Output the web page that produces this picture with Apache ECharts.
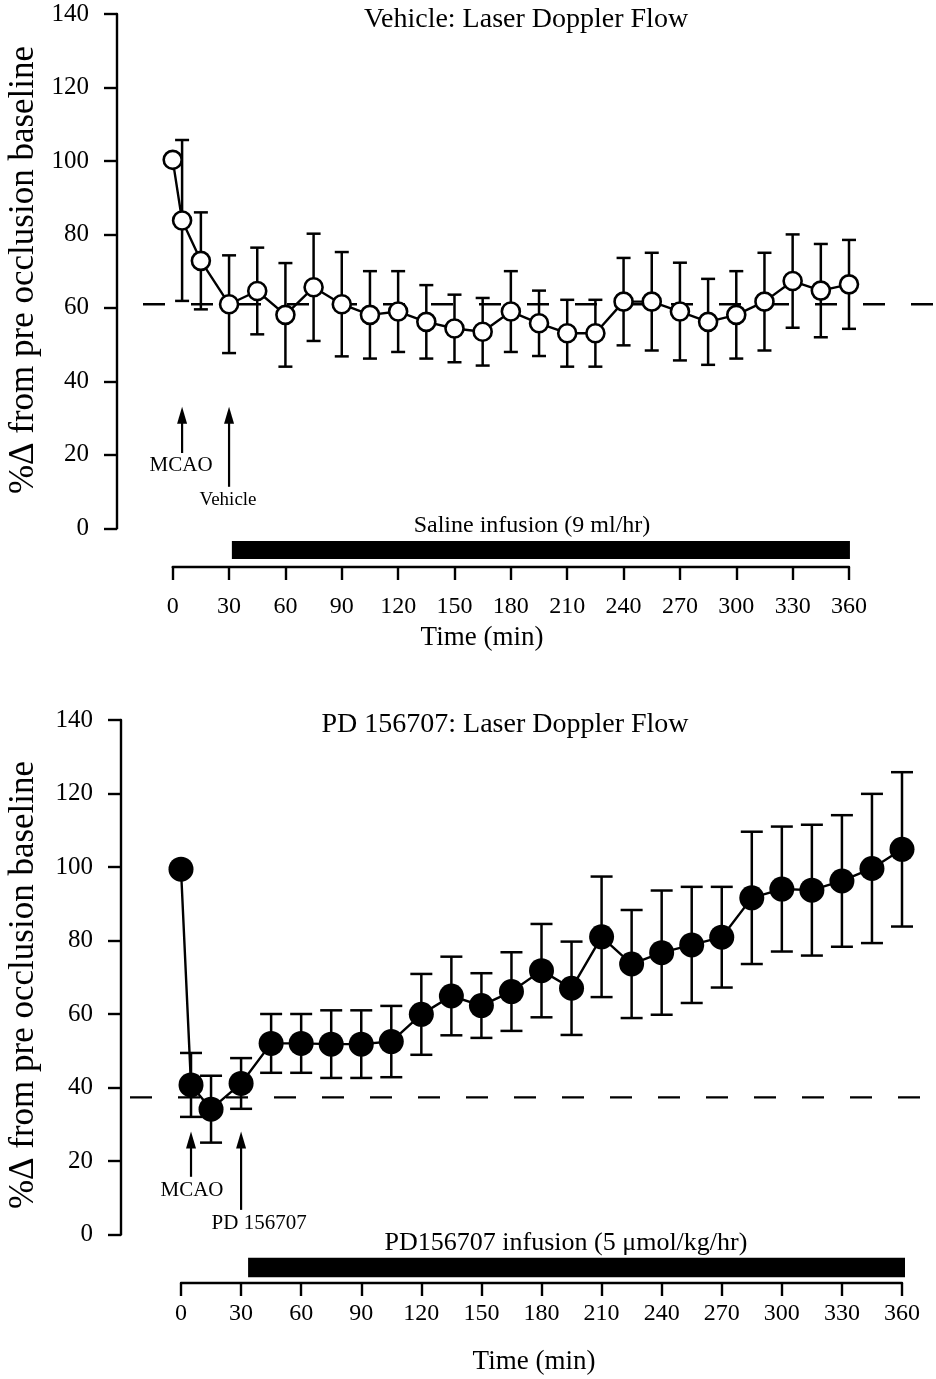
<!DOCTYPE html>
<html>
<head>
<meta charset="utf-8">
<script src="https://cdn.jsdelivr.net/npm/echarts@6/dist/echarts.min.js"></script>
<style>
  html, body { margin: 0; padding: 0; background: #fff; }
  #chart { width: 936px; height: 1379px; }
</style>
</head>
<body>
<div id="chart"></div>
<script>
// Sampling times (min) after middle cerebral artery occlusion
const timeMin = [0, 5, 15, 30, 45, 60, 75, 90, 105, 120, 135, 150, 165, 180,
                 195, 210, 225, 240, 255, 270, 285, 300, 315, 330, 345, 360];

// Vehicle group: mean and SEM of laser Doppler flow (% of pre-occlusion baseline)
const vehicleMean = [100.3, 83.8, 72.8, 61.0, 64.6, 58.1, 65.6, 61.0, 58.1, 59.0, 56.2, 54.4, 53.5,
                     59.0, 55.8, 53.1, 53.1, 61.7, 61.7, 59.0, 56.2, 58.1, 61.7, 67.3, 64.7, 66.4];
const vehicleSem  = [null, 21.9, 13.2, 13.3, 11.8, 14.1, 14.6, 14.2, 11.9, 11.0, 10.0, 9.2, 9.2,
                     11.0, 8.9, 9.1, 9.1, 11.9, 13.3, 13.3, 11.7, 11.9, 13.3, 12.7, 12.7, 12.1];

// PD 156707 group
const pdMean = [99.4, 40.7, 34.1, 41.1, 52.0, 52.0, 51.8, 51.8, 52.5, 59.9, 64.9, 62.3, 66.1,
                71.8, 67.0, 81.0, 73.6, 76.7, 78.8, 80.9, 91.6, 94.0, 93.7, 96.2, 99.6, 104.8];
const pdSem  = [null, 8.7, 9.1, 6.9, 8.0, 8.0, 9.2, 9.2, 9.7, 11.0, 10.7, 8.8, 10.7,
                12.7, 12.7, 16.4, 14.7, 16.9, 15.8, 13.7, 18.0, 17.0, 17.8, 17.9, 20.3, 21.0];

// Post-occlusion reference levels (dashed lines)
const vehicleBaseline = 61;
const pdBaseline = 37.3;

// Infusion periods (min)
const vehicleInfusion = [31.5, 360.5];
const pdInfusion = [33.5, 361.5];

// Axis tick settings
const flowTicks = { min: 0, max: 140, interval: 20 };
const timeTicks = { min: 0, max: 360, interval: 30 };

const FONT = "'Liberation Serif', 'Times New Roman', serif";

const panels = [
  {
    mean: vehicleMean, sem: vehicleSem, baseline: vehicleBaseline, infusion: vehicleInfusion,
    title: 'Vehicle: Laser Doppler Flow',
    infusionLabel: 'Saline infusion (9 ml/hr)',
    arrows: [
      { x: 5, tip: 33.1, tail: 20.5, label: 'MCAO', textY: 17.2, dx: -1, fontSize: 21 },
      { x: 30, tip: 33.1, tail: 11.3, label: 'Vehicle', textY: 7.7, dx: -1, fontSize: 19 }
    ],
    layout: {
      yAxisX: 117, x0: 172.7, x360: 849, right: 936, top: 14, bottom: 528.3,
      timeAxisY: 567, dashStartPx: 143, barGap: 8, barH: 18, capW: 14,
      titlePos: [526, 20], yNamePos: [24, 270], infLabelPos: [532, 526], timeNamePos: [482, 638],
      infFont: 24, tickMargin: 28
    },
    marker: { size: 18, fill: '#fff', border: 2.6 }
  },
  {
    mean: pdMean, sem: pdSem, baseline: pdBaseline, infusion: pdInfusion,
    title: 'PD 156707: Laser Doppler Flow',
    infusionLabel: 'PD156707 infusion (5 \u03bcmol/kg/hr)',
    arrows: [
      { x: 5, tip: 28.0, tail: 15.7, label: 'MCAO', textY: 12.1, dx: 1, fontSize: 21 },
      { x: 30, tip: 28.0, tail: 6.7, label: 'PD 156707', textY: 2.9, dx: 18, fontSize: 21 }
    ],
    layout: {
      yAxisX: 121, x0: 181, x360: 902, right: 936, top: 720, bottom: 1234.5,
      timeAxisY: 1283, dashStartPx: 130, barGap: 5.7, barH: 19.6, capW: 22,
      titlePos: [505, 725], yNamePos: [24, 985], infLabelPos: [566, 1243], timeNamePos: [534, 1362],
      infFont: 26, tickMargin: 19
    },
    marker: { size: 25, fill: '#000', border: 0 }
  }
];

const option = {
  animation: false,
  backgroundColor: '#fff',
  grid: [], xAxis: [], yAxis: [], series: [], graphic: []
};

const blackLine = { color: '#000', width: 2.4 };

panels.forEach(function (p) {
  const L = p.layout;
  const scale = (L.x360 - L.x0) / 360;              // px per minute
  const xMin = -(L.x0 - L.yAxisX) / scale;
  const xMax = 360 + (L.right - L.x360) / scale;

  // data grid (flow axis on the left)
  const gData = option.grid.length;
  option.grid.push({ left: L.yAxisX, top: L.top, width: L.right - L.yAxisX, height: L.bottom - L.top });
  // time axis grid underneath
  const gTime = option.grid.length;
  option.grid.push({ left: L.x0, top: L.timeAxisY - 30, width: L.x360 - L.x0, height: 30 });

  const xData = option.xAxis.length;
  option.xAxis.push({ gridIndex: gData, type: 'value', min: xMin, max: xMax, show: false });
  const yData = option.yAxis.length;
  option.yAxis.push({
    gridIndex: gData, type: 'value', position: 'left',
    min: flowTicks.min, max: flowTicks.max, interval: flowTicks.interval,
    axisLine: { show: true, onZero: false, lineStyle: blackLine },
    axisTick: { show: true, length: 13, lineStyle: blackLine },
    axisLabel: { color: '#000', fontSize: 25, fontFamily: FONT, margin: 28 },
    splitLine: { show: false }
  });

  const xTime = option.xAxis.length;
  option.xAxis.push({
    gridIndex: gTime, type: 'value', position: 'bottom',
    min: timeTicks.min, max: timeTicks.max, interval: timeTicks.interval,
    axisLine: { show: true, onZero: false, lineStyle: blackLine },
    axisTick: { show: true, length: 13, lineStyle: blackLine },
    axisLabel: { color: '#000', fontSize: 24, fontFamily: FONT, margin: L.tickMargin },
    splitLine: { show: false }
  });
  const yTime = option.yAxis.length;
  option.yAxis.push({ gridIndex: gTime, type: 'value', min: 0, max: 1, show: false });

  // dashed reference level
  option.series.push({
    type: 'line', xAxisIndex: xData, yAxisIndex: yData, z: 1, silent: true,
    symbol: 'none',
    data: [[(L.dashStartPx - L.x0) / scale, p.baseline], [xMax, p.baseline]],
    lineStyle: { color: '#000', width: 2.4, type: [22, 26] }
  });

  // SEM error bars
  const errData = [];
  timeMin.forEach(function (t, i) { if (p.sem[i] != null) errData.push([t, p.mean[i], p.sem[i]]); });
  option.series.push({
    type: 'custom', xAxisIndex: xData, yAxisIndex: yData, z: 2, silent: true,
    data: errData,
    renderItem: function (params, api) {
      const x = api.value(0), m = api.value(1), s = api.value(2);
      const hi = api.coord([x, m + s]);
      const lo = api.coord([x, m - s]);
      const w = L.capW / 2;
      const st = { stroke: '#000', lineWidth: 2.5 };
      return {
        type: 'group',
        children: [
          { type: 'line', shape: { x1: hi[0], y1: hi[1], x2: lo[0], y2: lo[1] }, style: st },
          { type: 'line', shape: { x1: hi[0] - w, y1: hi[1], x2: hi[0] + w, y2: hi[1] }, style: st },
          { type: 'line', shape: { x1: lo[0] - w, y1: lo[1], x2: lo[0] + w, y2: lo[1] }, style: st }
        ]
      };
    }
  });

  // mean flow trace
  option.series.push({
    type: 'line', xAxisIndex: xData, yAxisIndex: yData, z: 3, silent: true,
    data: timeMin.map(function (t, i) { return [t, p.mean[i]]; }),
    symbol: 'circle', symbolSize: p.marker.size, showAllSymbol: true,
    lineStyle: { color: '#000', width: 2.4 },
    itemStyle: { color: p.marker.fill, borderColor: '#000', borderWidth: p.marker.border }
  });

  // event arrows (occlusion, treatment start)
  option.series.push({
    type: 'custom', xAxisIndex: xData, yAxisIndex: yData, z: 4, silent: true,
    clip: false,
    data: p.arrows.map(function (a) { return [a.x, a.tip]; }),
    renderItem: function (params, api) {
      const a = p.arrows[params.dataIndex];
      const tip = api.coord([a.x, a.tip]);
      const tail = api.coord([a.x, a.tail]);
      const txt = api.coord([a.x, a.textY]);
      const headL = 17, headW = 5;
      return {
        type: 'group',
        children: [
          { type: 'line', shape: { x1: tail[0], y1: tail[1], x2: tip[0], y2: tip[1] + headL - 2 },
            style: { stroke: '#000', lineWidth: 2.2 } },
          { type: 'polygon', shape: { points: [[tip[0], tip[1]], [tip[0] - headW, tip[1] + headL], [tip[0] + headW, tip[1] + headL]] },
            style: { fill: '#000' } },
          { type: 'text', x: txt[0] + a.dx, y: txt[1],
            style: { text: a.label, fill: '#000', fontSize: a.fontSize, fontFamily: FONT,
                     align: 'center', verticalAlign: 'middle' } }
        ]
      };
    }
  });

  // infusion bar
  option.series.push({
    type: 'custom', xAxisIndex: xTime, yAxisIndex: yTime, z: 2, silent: true, clip: false,
    data: [[p.infusion[0], p.infusion[1]]],
    renderItem: function (params, api) {
      const a = api.coord([api.value(0), 0]);
      const b = api.coord([api.value(1), 0]);
      return {
        type: 'rect',
        shape: { x: a[0], y: a[1] - L.barGap - L.barH, width: b[0] - a[0], height: L.barH },
        style: { fill: '#000' }
      };
    }
  });

  // texts
  const txtStyle = function (text, size) {
    return { text: text, fill: '#000', fontSize: size, fontFamily: FONT, align: 'center', verticalAlign: 'middle' };
  };
  option.graphic.push(
    { type: 'text', x: L.titlePos[0], y: L.titlePos[1], style: txtStyle(p.title, 28) },
    { type: 'text', x: L.yNamePos[0], y: L.yNamePos[1], rotation: Math.PI / 2,
      style: txtStyle('%\u0394 from pre occlusion baseline', 35) },
    { type: 'text', x: L.infLabelPos[0], y: L.infLabelPos[1], style: txtStyle(p.infusionLabel, L.infFont) },
    { type: 'text', x: L.timeNamePos[0], y: L.timeNamePos[1], style: txtStyle('Time (min)', 27) }
  );
});

const chart = echarts.init(document.getElementById('chart'), null, { renderer: 'canvas' });
chart.setOption(option);
</script>
</body>
</html>
